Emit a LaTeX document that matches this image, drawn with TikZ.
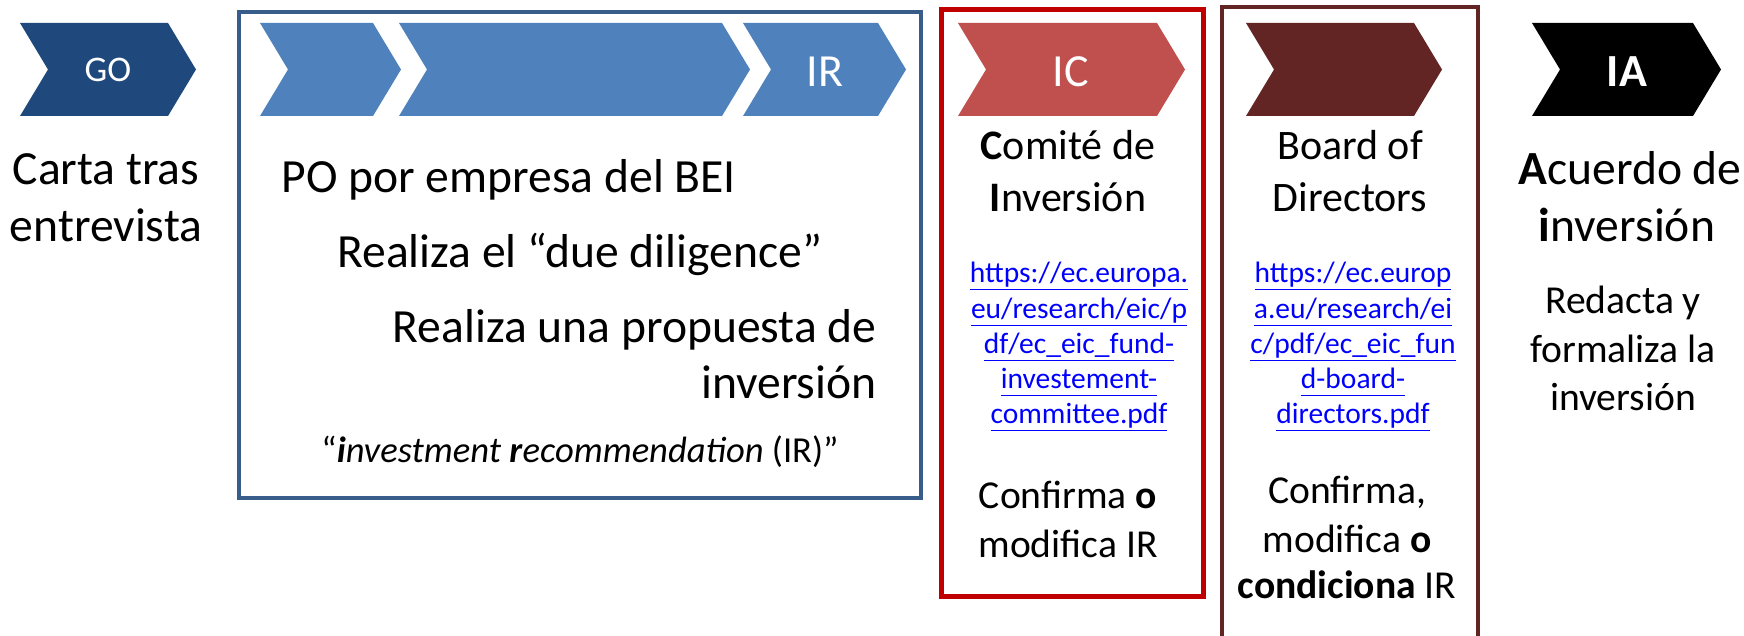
\documentclass[tikz,border=0pt]{standalone}
\usepackage{fontspec}
\setmainfont{Carlito}
\definecolor{godark}{RGB}{31,73,125}
\definecolor{accent}{RGB}{79,129,189}
\definecolor{bluebd}{RGB}{56,93,138}
\definecolor{icred}{RGB}{192,80,77}
\definecolor{redbd}{RGB}{192,0,0}
\definecolor{brownc}{RGB}{99,37,35}
\definecolor{urlblue}{RGB}{0,0,255}
\newcommand\chevron[4]{%
  \fill[#4] (#2,23) -- ({#3-28},23) -- (#3,69.5) -- ({#3-28},116) -- (#2,116) -- ({#2+28},69.5) -- cycle;
  \coordinate (#1) at ({(#2+#3)/2},69.5);
}
\newcommand\myul[1]{\underline{\vphantom{/p}#1}}
\tikzset{
  lbl/.style={inner sep=0pt, anchor=base},
  big/.style={lbl, font=\fontsize{23.8}{28}\selectfont},
  mid/.style={lbl, font=\fontsize{21}{25}\selectfont},
  sml/.style={lbl, font=\fontsize{19.8}{24}\selectfont},
  url/.style={lbl, font=\fontsize{14.75}{18}\selectfont, text=urlblue},
  chevtxt/.style={inner sep=0pt, text=white, anchor=base},
}
\begin{document}
\begin{tikzpicture}[x=0.5pt,y=-0.5pt]
\useasboundingbox (0,0) rectangle (1744,636);
\clip (0,0) rectangle (1744,636);
% frames
\draw[line width=2.25pt, bluebd] (239,12) rectangle (921,498);
\draw[line width=2.5pt, redbd] (941,10) rectangle (1203,596);
\draw[line width=2pt, brownc] (1222,7) rectangle (1478,660);
% chevrons
\chevron{cgo}{20}{196}{godark}
\chevron{cb1}{260}{401}{accent}
\chevron{cb2}{399}{750}{accent}
\chevron{cb3}{743}{906}{accent}
\chevron{cic}{958}{1185}{icred}
\chevron{cbd}{1246}{1442}{brownc}
\chevron{cia}{1532}{1721}{black}
\node[chevtxt, font=\fontsize{18}{20}\selectfont] (go) at (108,82) {GO};
\node[chevtxt, font=\fontsize{23}{26}\selectfont] (ir) at (825,87) {IR};
\node[chevtxt, font=\fontsize{23}{26}\selectfont] (ic) at (1071,87) {IC};
\node[chevtxt, font=\bfseries\fontsize{23}{26}\selectfont] (ia) at (1627,87) {IA};
% GO column
\node[big] (carta1) at (106,185) {Carta tras};
\node[big] (carta2) at (106,242) {entrevista};
% blue box
\node[big, anchor=base west] (po) at (281,193) {PO por empresa del BEI};
\node[big, anchor=base west] (dd) at (337,267) {Realiza el “due diligence”};
\node[big, anchor=base east] (prop1) at (877,342) {Realiza una propuesta de};
\node[big, anchor=base east] (prop2) at (877,398) {inversión};
\node[lbl, font=\fontsize{18.3}{22}\selectfont] (irtxt) at (580,462) {“\textbf{\textit{i}}\textit{nvestment }\textbf{\textit{r}}\textit{ecommendation} (IR)”};
% IC box
\node[mid] (com1) at (1068,160) {\textbf{C}omité de};
\node[mid] (com2) at (1068,212) {\textbf{I}nversión};
\node[url] (u1) at (1079,282) {\myul{https://ec.europa.}};
\node[url] (u2) at (1079,318) {\myul{eu/research/eic/p}};
\node[url] (u3) at (1079,353) {\myul{df/ec\_eic\_fund-}};
\node[url] (u4) at (1079,388) {\myul{investement-}};
\node[url] (u5) at (1079,423) {\myul{committee.pdf}};
\node[sml] (conf1) at (1068,508) {Confirma \textbf{o}};
\node[sml] (conf2) at (1068,557) {modifica IR};
% Board box
\node[mid] (bd1) at (1350,160) {Board of};
\node[mid] (bd2) at (1350,212) {Directors};
\node[url] (v1) at (1353,282) {\myul{https://ec.europ}};
\node[url] (v2) at (1353,318) {\myul{a.eu/research/ei}};
\node[url] (v3) at (1353,353) {\myul{c/pdf/ec\_eic\_fun}};
\node[url] (v4) at (1353,388) {\myul{d-board-}};
\node[url] (v5) at (1353,423) {\myul{directors.pdf}};
\node[sml] (bc1) at (1347,503) {Confirma,};
\node[sml] (bc2) at (1347,552) {modifica \textbf{o}};
\node[sml] (bc3) at (1347,598) {\textbf{condiciona} IR};
% IA column
\node[big] (ac1) at (1630,185) {\textbf{A}cuerdo de};
\node[big] (ac2) at (1627,242) {\textbf{i}nversión};
\node[sml] (red1) at (1623,313) {Redacta y};
\node[sml] (red2) at (1623,362) {formaliza la};
\node[sml] (red3) at (1623,410) {inversión};
\end{tikzpicture}
\end{document}
